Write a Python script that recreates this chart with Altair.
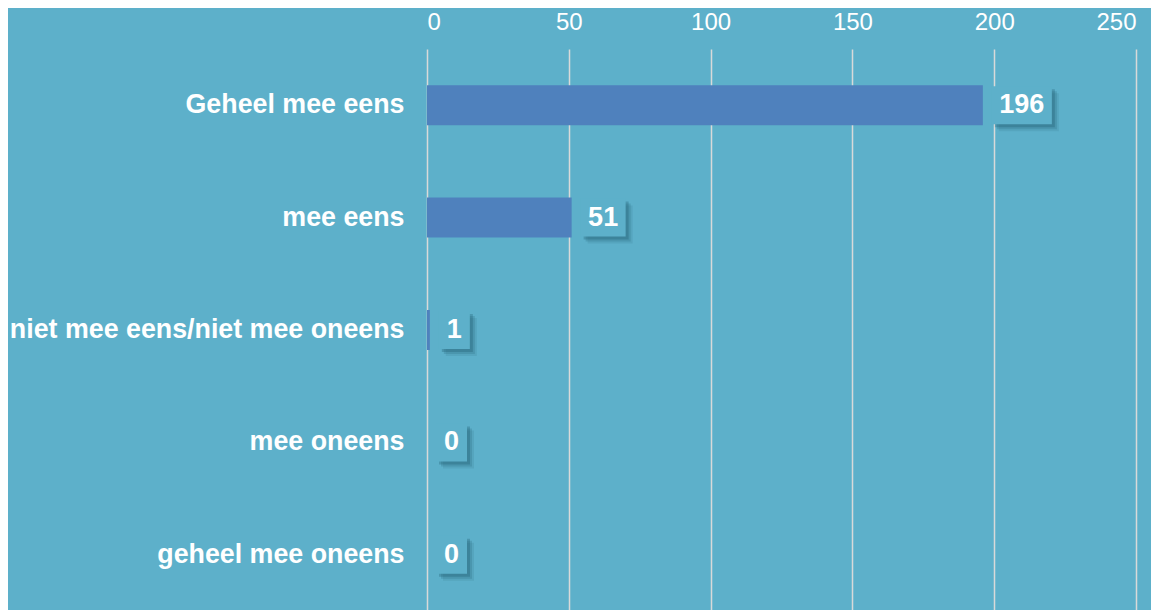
import altair as alt
import pandas as pd

categories = ["Geheel mee eens", "mee eens", "niet mee eens/niet mee oneens", "mee oneens", "geheel mee oneens"]
values = [196, 51, 1, 0, 0]
x_ticks = [0, 50, 100, 150, 200, 250]

df = pd.DataFrame({"cat": categories, "value": values})
df["label"] = df["value"].astype(str)
df["nchar"] = df["label"].str.len()

BG = "#5DB0CA"
BAR = "#4F81BD"

y_enc = alt.Y("cat:N", sort=categories, title=None,
              scale=alt.Scale(paddingInner=0.644, paddingOuter=0.322),
              axis=alt.Axis(labelFontSize=26.8, labelFontWeight="bold", labelColor="white",
                            labelFont="Liberation Sans", ticks=False, domain=False,
                            labelPadding=23, labelLimit=600))
x_enc = alt.X("value:Q", title=None,
              scale=alt.Scale(domain=[0, 250], nice=False),
              axis=alt.Axis(orient="top", values=x_ticks, labelFontSize=24, labelColor="white",
                            labelFont="Liberation Sans", ticks=False, domain=False,
                            labelPadding=15, grid=True, gridColor="#D9D9D9", gridWidth=1.5))

bars = alt.Chart(df).mark_bar(color=BAR, height=40).encode(y=y_enc, x=x_enc)

layers = [bars]
widths = {1: 31, 2: 45, 3: 60}
for n, w in widths.items():
    sub = alt.Chart(df).transform_filter(alt.datum.nchar == n)
    for off, op in [(7, 0.12), (5, 0.2), (3, 0.3)]:
        shadow = sub.mark_bar(color="#1E5A6E", opacity=op, height=38,
                              xOffset=9 + off, x2Offset=9 + off + w, yOffset=off).encode(
            y=alt.Y("cat:N", sort=categories), x="value:Q", x2="value:Q")
        layers.append(shadow)
    box = sub.mark_bar(color=BG, height=38, xOffset=9, x2Offset=9 + w).encode(
        y=alt.Y("cat:N", sort=categories), x="value:Q", x2="value:Q")
    txt = sub.mark_text(color="white", fontSize=27, fontWeight="bold", font="Liberation Sans",
                        dx=9 + w / 2, align="center", baseline="middle").encode(
        y=alt.Y("cat:N", sort=categories), x="value:Q", text="label:N")
    layers += [box, txt]

chart = alt.layer(*layers).properties(
    width=709, height=562, background=BG,
    padding={"left": 419, "top": 41, "right": 15, "bottom": 0},
    autosize=alt.AutoSizeParams(type="none"),
).configure_view(stroke=None)

chart.save("out.html", embed_options={"renderer": "svg", "actions": False})
